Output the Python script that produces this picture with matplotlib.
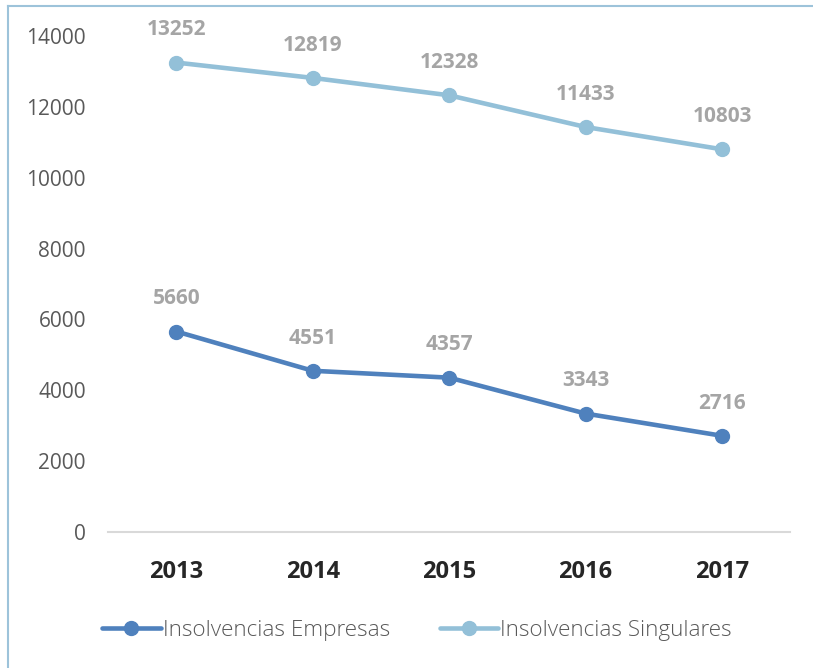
import matplotlib.pyplot as plt

years = ["2013", "2014", "2015", "2016", "2017"]
empresas = [5660, 4551, 4357, 3343, 2716]
singulares = [13252, 12819, 12328, 11433, 10803]

plt.rcParams['font.family'] = ['Open Sans', 'DejaVu Sans']

fig = plt.figure(figsize=(8.13, 6.68), dpi=100)
ax = fig.add_axes([0.133, 0.2036, 0.839, 0.7424])

c_emp = '#4F81BD'
c_sing = '#93C0D8'
x = range(len(years))

ax.plot(x, empresas, color=c_emp, lw=3.3, marker='o', ms=10, label='Insolvencias Empresas',
        solid_capstyle='round')
ax.plot(x, singulares, color=c_sing, lw=3.3, marker='o', ms=10, label='Insolvencias Singulares',
        solid_capstyle='round')

for serie in (empresas, singulares):
    for i, v in enumerate(serie):
        ax.annotate(str(v), (i, v), xytext=(0, 16), textcoords='offset points',
                    ha='center', va='bottom', fontsize=15, fontweight='bold', color='#A5A5A5')

ax.set_xlim(-0.5, 4.5)
ax.set_ylim(0, 14000)
ax.set_yticks(range(0, 14001, 2000))
ax.set_xticks(list(x))
ax.set_xticklabels(years, fontweight='bold', fontsize=17, color='#262626')
ax.tick_params(axis='y', labelsize=15, labelcolor='#595959', length=0, pad=16)
ax.tick_params(axis='x', length=0, pad=20)
for s in ('top', 'right', 'left'):
    ax.spines[s].set_visible(False)
ax.spines['bottom'].set_color('#D9D9D9')
ax.spines['bottom'].set_linewidth(1.5)

leg = fig.legend(loc='center', bbox_to_anchor=(0.513, 0.056), ncol=2, frameon=False,
                 prop={'size': 16.2, 'weight': 'light'},
                 handlelength=2.6, handletextpad=0.1, columnspacing=2.2)
for t in leg.get_texts():
    t.set_color('#595959')

# borde del grafico
fig.add_artist(plt.Line2D([0.01, 0.01], [0, 0.991], color='#9DC3DA', lw=1.5,
                          transform=fig.transFigure))
fig.add_artist(plt.Line2D([0.01, 1.0], [0.991, 0.991], color='#9DC3DA', lw=1.5,
                          transform=fig.transFigure))

fig.savefig('out.png', dpi=100)
